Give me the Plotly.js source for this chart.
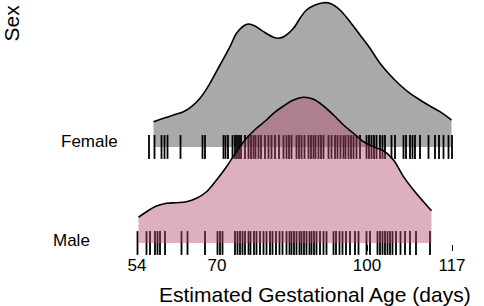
<!DOCTYPE html>
<html>
<head>
<meta charset="utf-8">
<script src="https://cdn.plot.ly/plotly-3.0.1.min.js"></script>
<style>html,body{margin:0;padding:0;background:#fff;}#chart{width:484px;height:306px;}</style>
</head>
<body>
<div id="chart"></div>
<script>
// Categories (ridge order from bottom to top)
const categories = ['Male', 'Female'];
const tickVals = [54, 70, 100, 117];

// Density outlines (estimated gestational age in days, relative ridge height)
const femaleX = [57.3, 59.3, 61.3, 63.3, 64.9, 66.6, 68.6, 70.6, 72.6, 73.9, 75.3, 76.3, 77.6, 79.3, 81.3, 82.3, 83.6, 85.3, 86.6, 87.9, 89.6, 91.3, 92.9, 94.6, 96.6, 98.6, 100.6, 102.6, 104.6, 106.6, 108.6, 110.6, 112.6, 114.6, 116.9];
const femaleH = [0.264, 0.299, 0.333, 0.368, 0.420, 0.507, 0.664, 0.854, 1.045, 1.184, 1.260, 1.281, 1.260, 1.201, 1.143, 1.132, 1.156, 1.236, 1.341, 1.427, 1.479, 1.503, 1.490, 1.427, 1.305, 1.167, 1.028, 0.872, 0.750, 0.646, 0.559, 0.490, 0.427, 0.368, 0.281];

const maleX = [54.3, 55.9, 57.9, 59.9, 61.9, 63.9, 65.9, 67.9, 69.9, 71.9, 73.9, 75.9, 77.9, 79.9, 81.3, 83.3, 85.3, 87.3, 89.3, 91.3, 93.3, 95.3, 97.3, 99.3, 101.3, 103.3, 105.3, 107.3, 109.3, 111.3, 112.9];
const maleH = [0.268, 0.326, 0.385, 0.414, 0.420, 0.430, 0.466, 0.534, 0.656, 0.795, 0.951, 1.091, 1.195, 1.281, 1.351, 1.427, 1.490, 1.518, 1.497, 1.427, 1.333, 1.229, 1.143, 1.055, 1.003, 0.961, 0.865, 0.691, 0.552, 0.430, 0.336];

// Individual observations (rug marks)
const femaleAges = [56.4, 57.5, 58.9, 59.5, 60.1, 62.7, 67.1, 67.6, 71.3, 71.7, 72.2, 73.1, 73.6, 74.0, 74.4, 74.8, 75.6, 76.3, 76.8, 77.3, 77.7, 78.3, 78.8, 79.6, 80.3, 80.9, 81.6, 82.4, 83.3, 83.9, 84.4, 84.9, 85.9, 86.4, 86.9, 87.5, 88.3, 88.8, 89.3, 89.7, 90.3, 90.8, 91.3, 92.3, 92.9, 93.6, 94.1, 94.7, 95.3, 95.7, 96.3, 96.8, 97.3, 97.9, 98.6, 99.9, 100.4, 100.9, 101.4, 101.9, 102.6, 103.1, 103.6, 104.9, 105.6, 107.3, 107.8, 108.6, 109.1, 109.6, 110.6, 112.3, 113.6, 114.4, 115.3, 116.3, 117.0];
const maleAges = [54.1, 55.9, 56.6, 57.6, 58.1, 58.6, 59.6, 62.9, 64.1, 67.6, 70.1, 70.6, 71.1, 73.6, 74.1, 74.6, 75.1, 75.6, 76.3, 76.7, 77.4, 77.9, 78.6, 79.3, 79.9, 80.6, 81.1, 81.8, 82.5, 83.1, 83.9, 84.5, 84.9, 85.4, 85.9, 86.5, 86.9, 87.4, 87.9, 88.5, 88.9, 89.4, 89.9, 90.6, 91.3, 91.9, 93.3, 93.8, 94.5, 95.1, 95.8, 96.6, 97.6, 98.3, 99.9, 100.6, 102.1, 102.6, 103.1, 103.6, 104.1, 104.6, 105.1, 105.8, 106.7, 107.6, 108.6, 109.8, 112.6];

const FONT = 'Liberation Sans, Arial, Helvetica, sans-serif';
const femaleBase = categories.indexOf('Female');
const maleBase = categories.indexOf('Male');

function baseTrace(xs, b) {
  return {x: [xs[0], xs[xs.length - 1]], y: [b, b], mode: 'lines', line: {width: 0, color: 'rgba(0,0,0,0)'}, hoverinfo: 'skip', showlegend: false};
}
function ridgeTrace(xs, hs, b, fill) {
  return {x: xs, y: hs.map(h => h + b), mode: 'lines', fill: 'tonexty', fillcolor: fill,
    line: {color: '#000', width: 1.6, shape: 'spline', smoothing: 1}, hoverinfo: 'skip', showlegend: false};
}
function rugTrace(ages, b) {
  return {x: ages, y: ages.map(() => b), mode: 'markers', cliponaxis: false,
    marker: {symbol: 'line-ns-open', size: 17, color: '#000', line: {width: 1.8, color: '#000'}},
    hoverinfo: 'skip', showlegend: false};
}

const data = [
  baseTrace(femaleX, femaleBase),
  ridgeTrace(femaleX, femaleH, femaleBase, 'rgb(169,169,169)'),
  rugTrace(femaleAges, femaleBase),
  rugTrace(maleAges, maleBase),
  baseTrace(maleX, maleBase),
  ridgeTrace(maleX, maleH, maleBase, 'rgba(179,74,110,0.44)')
];

const layout = {
  width: 484, height: 306,
  margin: {l: 137, r: 32, t: 0, b: 62},
  paper_bgcolor: '#fff', plot_bgcolor: '#fff',
  font: {family: FONT, color: '#000'},
  xaxis: {range: [54, 117], tickvals: tickVals, ticktext: tickVals.map(String), ticks: 'outside', ticklen: 6,
    tickwidth: 1, tickcolor: '#000', showline: false, showgrid: false, zeroline: false,
    tickfont: {size: 17, family: FONT, color: '#000'}},
  yaxis: {range: [-0.0104, 2.531], showticklabels: false, showgrid: false, zeroline: false, showline: false, ticks: ''},
  annotations: [
    {text: 'Sex', xref: 'paper', yref: 'paper', x: (11.5 - 137) / 315, y: 0.906, textangle: -90, showarrow: false,
      xanchor: 'center', yanchor: 'middle', font: {size: 21, family: FONT, color: '#000'}},
    {text: 'Estimated Gestational Age (days)', xref: 'paper', yref: 'paper', x: 1.0667, y: -0.209, showarrow: false,
      xanchor: 'right', yanchor: 'middle', font: {size: 21, family: FONT, color: '#000'}},
    {text: categories[femaleBase], xref: 'paper', yref: 'y', x: (120 - 137) / 315, y: femaleBase + 0.06, showarrow: false,
      xanchor: 'right', yanchor: 'middle', font: {size: 17, family: FONT, color: '#000'}},
    {text: categories[maleBase], xref: 'paper', yref: 'y', x: (92 - 137) / 315, y: maleBase + 0.03, showarrow: false,
      xanchor: 'right', yanchor: 'middle', font: {size: 17, family: FONT, color: '#000'}}
  ],
  showlegend: false
};

Plotly.newPlot('chart', data, layout, {staticPlot: true, displayModeBar: false});
</script>
</body>
</html>
